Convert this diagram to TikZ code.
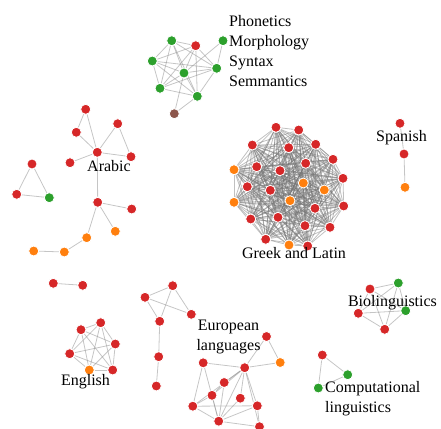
\documentclass[tikz,border=0pt]{standalone}
\usepackage{fontspec}
\setmainfont{Liberation Serif}
\usepackage{tikz}
\usetikzlibrary{backgrounds}
\definecolor{d3red}{RGB}{214,39,40}
\definecolor{d3green}{RGB}{44,160,44}
\definecolor{d3orange}{RGB}{255,127,14}
\definecolor{d3brown}{RGB}{140,86,75}
\definecolor{linkgray}{RGB}{150,150,150}
\tikzset{
  nodo/.style={
    circle,
    draw=white,
    line width=.8pt,
    inner sep=0pt,
    minimum size=10pt
  },
  enlace/.style={
    draw=linkgray,
    line width=.8pt,
    opacity=.55
  },
  rotulo/.style={
    font=\fontsize{16}{20}\selectfont,
    inner sep=0pt,
    text=black
  }
}

\begin{document}
\begin{tikzpicture}[x=1pt,y=-1pt]
\useasboundingbox (0,0) rectangle (441,428);
% greek and latin
\foreach \n/\x/\y/\c in {g1/276/127.3/d3red, g2/298.7/130/d3red, g3/252.3/145/d3red,
  g4/288.7/147.7/d3red, g5/315.7/144.3/d3red, g6/333/159.3/d3red, g7/305.7/163.3/d3red,
  g8/256.7/166.7/d3red, g9/280/170.7/d3red, g10/234/169.7/d3orange, g11/343/178.3/d3red,
  g12/303.3/183/d3orange, g13/247.3/186.7/d3red, g14/270.3/190.3/d3red, g15/324.3/190/d3orange,
  g16/234/202.3/d3orange, g17/290/200.7/d3orange, g18/343.7/206/d3red, g19/315/208.3/d3red,
  g20/250.7/219/d3red, g21/278/217.3/d3red, g22/305/225.7/d3red, g23/330/227.3/d3red,
  g24/265.7/239.3/d3red, g25/289/245/d3orange, g26/307.7/246/d3red}
  \node[nodo, fill=\c] (\n) at (\x,\y) {};
% phonetics
\foreach \n/\x/\y/\c in {f1/171.7/40.7/d3green, f2/195.7/45.7/d3red, f3/223/40.7/d3green,
  f4/152.3/61/d3green, f5/184/73/d3green, f6/216.7/68.3/d3green, f7/160/88.3/d3green,
  f8/197.3/96.3/d3green, f9/174.3/113.7/d3brown}
  \node[nodo, fill=\c] (\n) at (\x,\y) {};
% arabic
\foreach \n/\x/\y/\c in {a1/85.7/109.3/d3red, a2/76.3/132.3/d3red, a3/117.7/123.7/d3red,
  a4/97.3/152.3/d3red, a5/131/156.7/d3red, a6/70/162.7/d3red, a7/97.7/202.3/d3red,
  a8/131.7/209/d3red, a9/115.3/231.3/d3orange, a10/86.7/237.7/d3orange,
  a11/64.3/252/d3orange, a12/33.7/251/d3orange,
  t1/32/164/d3red, t2/16.7/194.3/d3red, t3/49.3/197.7/d3green}
  \node[nodo, fill=\c] (\n) at (\x,\y) {};
% spanish
\foreach \n/\x/\y/\c in {s1/400/123.3/d3red, s2/404/154/d3red, s3/405/187.3/d3orange,
  p1/53.3/283.3/d3red, p2/82.7/285.3/d3red}
  \node[nodo, fill=\c] (\n) at (\x,\y) {};
% english
\foreach \n/\x/\y/\c in {n1/100.7/322.7/d3red, n2/81/329.7/d3red, n3/115.3/344/d3red,
  n4/69.7/353.7/d3red, n5/89.3/370/d3orange, n6/112.7/370/d3red}
  \node[nodo, fill=\c] (\n) at (\x,\y) {};
% european
\foreach \n/\x/\y/\c in {c1/172.7/285.7/d3red, c2/145/297.3/d3red, c3/191.3/314.3/d3red,
  c4/159.7/321.3/d3red, c5/158.7/356.7/d3red, c6/156.3/386/d3red,
  e1/266.5/336.5/d3red, e2/280.2/362.5/d3orange, e3/203.2/362.8/d3red, e4/244.7/367.7/d3red,
  e5/224.2/382.5/d3red, e6/212/395.3/d3red, e7/240.3/398.2/d3red, e8/192.8/406.2/d3red,
  e9/257.3/405.8/d3red, e10/218.7/421.2/d3red, e11/259.5/426.7/d3red}
  \node[nodo, fill=\c] (\n) at (\x,\y) {};
% bio and computational
\foreach \n/\x/\y/\c in {b1/370/289/d3red, b2/398.3/283/d3green, b3/405.7/310.7/d3green,
  b4/358.3/313.3/d3red, b5/384.7/329.3/d3red,
  k1/322.3/355/d3red, k2/347.7/374.7/d3green, k3/318.3/388/d3green}
  \node[nodo, fill=\c] (\n) at (\x,\y) {};

\begin{scope}[on background layer]
\foreach \i in {1,...,25}{
  \pgfmathtruncatemacro\k{\i+1}
  \foreach \j in {\k,...,26} \draw[enlace, draw=black!55, opacity=.45] (g\i) -- (g\j);
}
\foreach \i/\j in {1/2,1/4,1/5,1/6,1/7,1/8,2/4,2/5,2/6,2/7,2/8,4/5,4/6,4/7,4/8,
  5/6,5/7,5/8,6/7,6/8,7/8,3/5,3/6,9/8,9/5}
  \draw[enlace] (f\i) -- (f\j);
\foreach \i/\j in {a1/a2,a1/a4,a2/a4,a3/a4,a3/a5,a4/a5,a4/a6,a4/a7,a7/a8,a7/a9,a7/a10,
  a10/a11,a11/a12,t1/t2,t1/t3,t2/t3,s1/s2,s2/s3,p1/p2}
  \draw[enlace] (\i) -- (\j);
\foreach \i in {1,...,5}{
  \pgfmathtruncatemacro\k{\i+1}
  \foreach \j in {\k,...,6} \draw[enlace] (n\i) -- (n\j);
}
\foreach \i/\j in {c1/c2,c1/c3,c1/c4,c2/c3,c2/c4,c4/c5,c5/c6,
  e1/e2,e1/e4,e2/e4,e3/e4,e3/e8,e3/e10,e4/e5,e4/e6,e4/e7,e4/e8,e4/e9,e4/e10,e4/e11,
  e5/e6,e5/e10,e6/e8,e6/e10,e7/e10,e8/e9,e8/e10,e9/e10,e9/e11,e10/e11}
  \draw[enlace] (\i) -- (\j);
\foreach \i in {1,...,4}{
  \pgfmathtruncatemacro\k{\i+1}
  \foreach \j in {\k,...,5} \draw[enlace] (b\i) -- (b\j);
}
\foreach \i/\j in {k1/k2,k1/k3,k2/k3}
  \draw[enlace] (\i) -- (\j);
\end{scope}

\node[rotulo, align=left, anchor=west] (lfono) at (229,51) {Phonetics\\Morphology\\Syntax\\Semmantics};
\node[rotulo] (larabe) at (109,166.5) {Arabic};
\node[rotulo] (lgriego) at (294,253) {Greek and Latin};
\node[rotulo] (lespanol) at (401.5,137.5) {Spanish};
\node[rotulo] (lingles) at (85.5,382) {English};
\node[rotulo, align=center] (leuropa) at (228.5,337) {European\\languages};
\node[rotulo] (lbio) at (392.5,302.5) {Biolinguistics};
\node[rotulo, align=left, anchor=west] (lcomp) at (325,398.5) {Computational\\linguistics};
\end{tikzpicture}
\end{document}
